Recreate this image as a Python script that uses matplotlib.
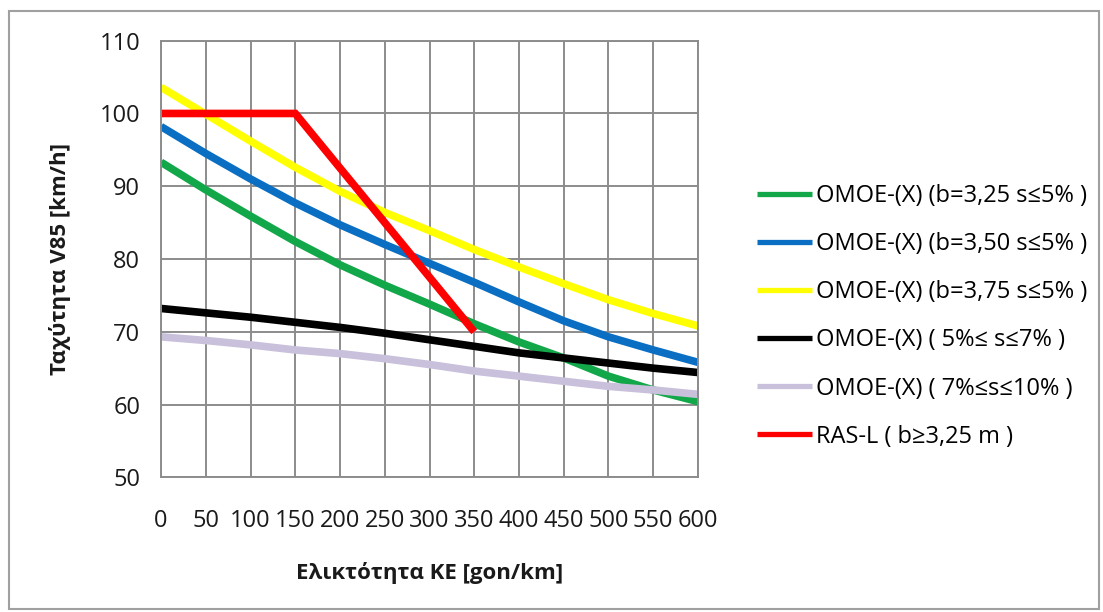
import matplotlib
matplotlib.use("Agg")
import matplotlib.pyplot as plt
from matplotlib.patches import Rectangle

plt.rcParams["font.family"] = ["Open Sans", "DejaVu Sans"]

# Values
ke = [0, 50, 100, 150, 200, 250, 300, 350, 400, 450, 500, 550, 600]
green = [93.3, 89.5, 85.9, 82.4, 79.2, 76.4, 73.8, 71.1, 68.6, 66.4, 63.9, 62.0, 60.4]
blue = [98.2, 94.5, 91.0, 87.7, 84.7, 82.0, 79.4, 76.8, 74.1, 71.5, 69.3, 67.5, 65.8]
yellow = [103.6, 99.9, 96.2, 92.6, 89.3, 86.4, 83.9, 81.3, 78.9, 76.6, 74.4, 72.5, 70.8]
black = [73.2, 72.6, 72.0, 71.3, 70.6, 69.8, 68.9, 68.0, 67.1, 66.4, 65.7, 65.0, 64.4]
lavender = [69.3, 68.8, 68.2, 67.5, 67.0, 66.3, 65.5, 64.6, 63.9, 63.2, 62.5, 62.0, 61.4]
ras_x = [0, 150, 350]
ras_y = [100, 100, 70]

labels = [
    "OMOE-(X) (b=3,25 s≤5% )",
    "OMOE-(X) (b=3,50 s≤5% )",
    "OMOE-(X) (b=3,75 s≤5% )",
    "OMOE-(X) ( 5%≤ s≤7% )",
    "OMOE-(X) ( 7%≤s≤10% )",
    "RAS-L ( b≥3,25 m )",
]
colors = ["#12a84a", "#0a6fc2", "#ffff00", "#000000", "#c9c0dc", "#ff0000"]

fig = plt.figure(figsize=(11.03, 6.12), dpi=100)
ax = fig.add_axes([0.146, 0.2201, 0.4868, 0.7134])

series = [green, blue, yellow, black, lavender]
for ys, lab, c in zip(series, labels[:5], colors[:5]):
    ax.plot(ke, ys, color=c, lw=5.5, label=lab, solid_capstyle="butt",
            solid_joinstyle="round")
ax.plot(ras_x, ras_y, color=colors[5], lw=5.5, label=labels[5],
        solid_joinstyle="miter", solid_capstyle="butt")

ax.set_xlim(0, 600)
ax.set_ylim(50, 110)
ax.set_xticks(range(0, 601, 50))
ax.set_yticks(range(50, 111, 10))
ax.grid(True, color="#8c8c8c", lw=1.4)
ax.set_axisbelow(True)
for s in ax.spines.values():
    s.set_color("#8c8c8c")
    s.set_linewidth(1.4)
ax.tick_params(length=0, labelsize=17, colors="#1a1a1a")
ax.tick_params(axis="x", pad=23)
ax.tick_params(axis="y", pad=15)
ax.set_xlabel("Ελικτότητα ΚΕ [gon/km]", fontsize=16, fontweight="bold", color="#1a1a1a")
ax.set_ylabel("Ταχύτητα V85 [km/h]", fontsize=16, fontweight="bold", color="#1a1a1a")
ax.xaxis.set_label_coords(0.5, -0.195)
ax.yaxis.set_label_coords(-0.168, 0.5)

leg = fig.legend(loc="center left", bbox_to_anchor=(0.686, 0.483), frameon=False,
                 fontsize=17, handlelength=2.33, handletextpad=0.17,
                 labelspacing=1.02, borderpad=0, borderaxespad=0)
for line in leg.get_lines():
    line.set_linewidth(3.8)

fig.patches.append(Rectangle((9 / 1103, 3 / 612), 1090 / 1103, 598 / 612,
                             transform=fig.transFigure, fill=False,
                             edgecolor="#a0a0a0", lw=1.5))

fig.savefig("out.png", dpi=100)
